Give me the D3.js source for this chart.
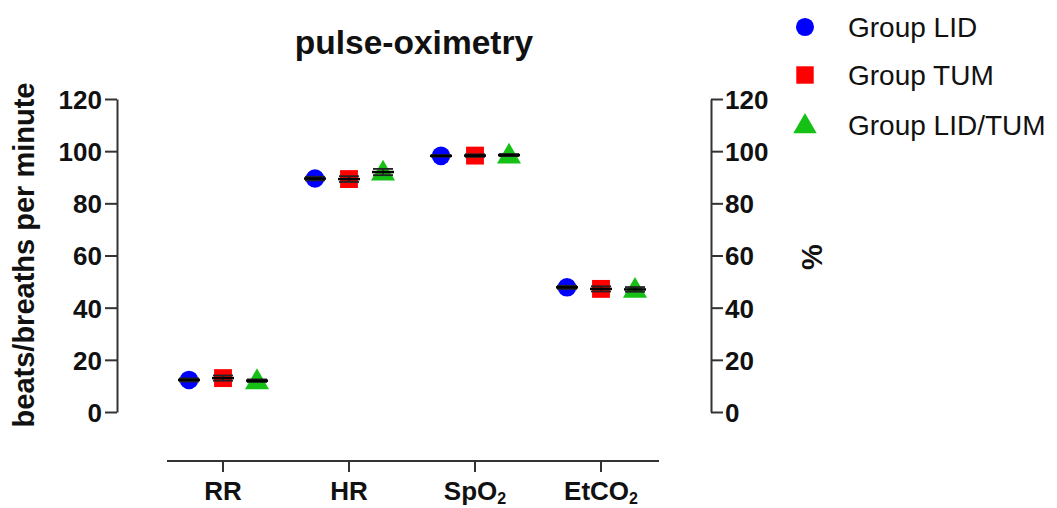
<!DOCTYPE html>
<html><head><meta charset="utf-8">
<script src="https://cdn.jsdelivr.net/npm/d3@7"></script>
<style>body{margin:0;background:#fff}svg{display:block}text{font-family:Arial,"Liberation Sans",Helvetica,sans-serif}</style>
</head><body>
<script>
const categories = ["RR","HR","SpO2","EtCO2"];
const categoryLabels = [["RR",""],["HR",""],["SpO","2"],["EtCO","2"]];
const groups = ["Group LID","Group TUM","Group LID/TUM"];
const meanLID = [12.3, 89.5, 98.2, 47.8];
const meanTUM = [13.0, 89.3, 98.3, 47.2];
const meanLIDTUM = [12.0, 92.0, 98.5, 47.0];
const sdLID = [0.6, 0.7, 0.3, 0.6];
const sdTUM = [1.0, 1.1, 0.5, 1.0];
const sdLIDTUM = [0.5, 1.2, 0.4, 0.9];
const yTicks = [0,20,40,60,80,100,120];
const colors = ["#0000ff","#ff0000","#16c116"];
const shapes = [d3.symbolCircle, d3.symbolSquare, d3.symbolTriangle];
const symSizes = [270, 320, 250];

const W = 1057, H = 508;
const svg = d3.select("body").append("svg").attr("width", W).attr("height", H);

const y = d3.scaleLinear().domain([0,120]).range([412,99]);
const x = d3.scalePoint().domain(categories).range([223,601]);
const xOff = d3.scalePoint().domain(groups).range([-34,34]);
const axisColor = "#333";

// Left axis
const gL = svg.append("g").attr("transform","translate(117,0)")
  .call(d3.axisLeft(y).tickValues(yTicks).tickSize(12).tickSizeOuter(0).tickPadding(3));
// Right axis
const gR = svg.append("g").attr("transform","translate(711,0)")
  .call(d3.axisRight(y).tickValues(yTicks).tickSize(12).tickSizeOuter(0).tickPadding(2));
[gL,gR].forEach(g=>{
  g.select(".domain").attr("stroke",axisColor).attr("stroke-width",2);
  g.selectAll(".tick line").attr("stroke",axisColor).attr("stroke-width",2);
  g.selectAll(".tick text").attr("fill","#111").attr("font-size",26).attr("font-weight","bold").attr("dy","0.36em");
});

// X axis
const gX = svg.append("g").attr("transform","translate(0,461)");
gX.append("line").attr("x1",167).attr("x2",659).attr("y1",0).attr("y2",0)
  .attr("stroke",axisColor).attr("stroke-width",2);
const xt = gX.selectAll("g.xt").data(categories).join("g").attr("class","xt")
  .attr("transform",d=>`translate(${x(d)},0)`);
xt.append("line").attr("y1",0).attr("y2",11).attr("stroke",axisColor).attr("stroke-width",2);
xt.each(function(d,i){
  const t = d3.select(this).append("text").attr("y",39).attr("text-anchor","middle")
    .attr("font-size",26).attr("font-weight","bold").attr("fill","#111");
  t.append("tspan").text(categoryLabels[i][0]);
  if (categoryLabels[i][1]) t.append("tspan").attr("font-size",16).attr("dy",4).text(categoryLabels[i][1]);
});

// Title
svg.append("text").attr("x",414).attr("y",54).attr("text-anchor","middle")
  .attr("font-size",33.5).attr("font-weight","bold").attr("fill","#111").text("pulse-oximetry");
// Y titles
svg.append("text").attr("transform","translate(34,255) rotate(-90)").attr("text-anchor","middle")
  .attr("font-size",29).attr("font-weight","bold").attr("fill","#111").text("beats/breaths per minute");
svg.append("text").attr("transform","translate(822,257) rotate(-90)").attr("text-anchor","middle")
  .attr("font-size",29).attr("font-weight","bold").attr("fill","#111").text("%");

// Data
const means = [meanLID, meanTUM, meanLIDTUM];
const sds = [sdLID, sdTUM, sdLIDTUM];
const points = [];
groups.forEach((g,gi)=>categories.forEach((c,ci)=>points.push({g,gi,c,m:means[gi][ci],s:sds[gi][ci]})));

const pg = svg.append("g").selectAll("g").data(points).join("g")
  .attr("transform",d=>`translate(${x(d.c)+xOff(d.g)},0)`);
pg.append("path").attr("d",d=>d3.symbol().type(shapes[d.gi]).size(symSizes[d.gi])())
  .attr("transform",d=>`translate(0,${y(d.m)+(d.gi===2?1.5:0)})`).attr("fill",d=>colors[d.gi]);
// error bars
pg.append("line").attr("x1",0).attr("x2",0).attr("y1",d=>y(d.m+d.s)).attr("y2",d=>y(d.m-d.s))
  .attr("stroke","#222").attr("stroke-width",1.5);
pg.append("line").attr("x1",-10).attr("x2",10).attr("y1",d=>y(d.m+d.s)).attr("y2",d=>y(d.m+d.s))
  .attr("stroke","#222").attr("stroke-width",1.8);
pg.append("line").attr("x1",-10).attr("x2",10).attr("y1",d=>y(d.m-d.s)).attr("y2",d=>y(d.m-d.s))
  .attr("stroke","#222").attr("stroke-width",1.8);
pg.append("line").attr("x1",-11).attr("x2",11).attr("y1",d=>y(d.m)).attr("y2",d=>y(d.m))
  .attr("stroke","#000").attr("stroke-width",2.5);

// Legend
const lg = svg.append("g").selectAll("g").data(groups).join("g")
  .attr("transform",(d,i)=>`translate(805,${[27,75,125][i]})`);
lg.append("path").attr("d",(d,i)=>d3.symbol().type(shapes[i]).size(symSizes[i]*0.95)())
  .attr("transform",(d,i)=>i===2?"translate(0,1.5)":null).attr("fill",(d,i)=>colors[i]);
lg.append("text").attr("x",43).attr("dy","0.36em").attr("font-size",28).attr("fill","#111").text(d=>d);
</script>
</body></html>
